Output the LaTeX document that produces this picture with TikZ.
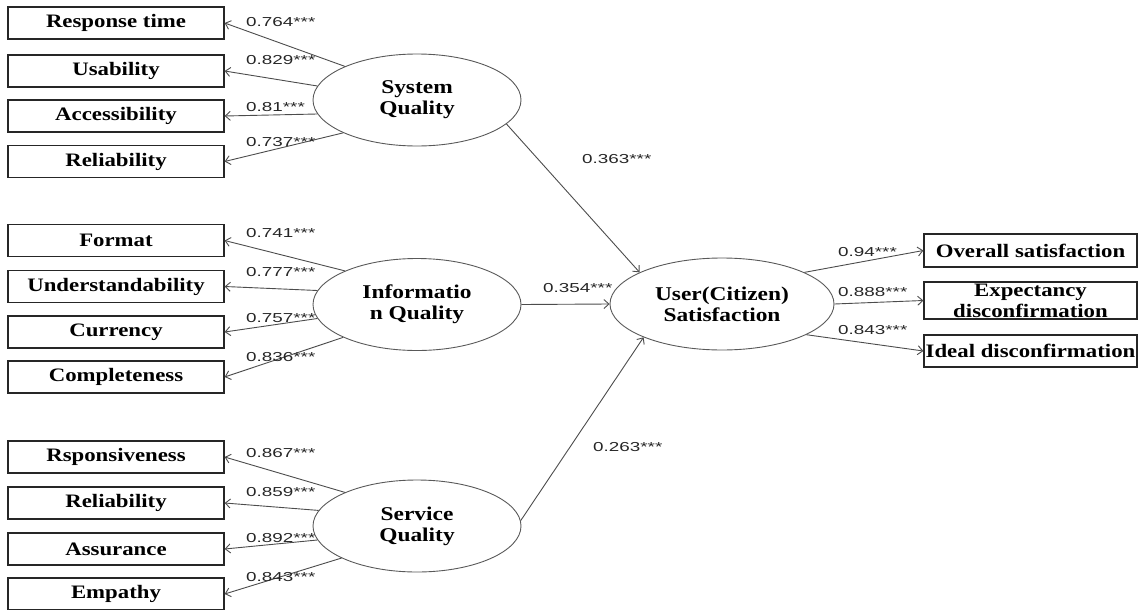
\documentclass[tikz,border=0pt]{standalone}
\usepackage{fontspec}
\setmainfont{Liberation Serif}
\newfontfamily\bxfont[FakeStretch=1.2]{Liberation Serif}
\newfontfamily\lbfont[FakeStretch=1.45]{Liberation Sans}
\usetikzlibrary{shapes.geometric,arrows.meta}
\tikzset{
 ind/.style={draw=black!85,line width=1.3pt,minimum width=216pt,minimum height=32pt,inner sep=0pt,font=\bxfont\bfseries\fontsize{19}{20}\selectfont},
 rind/.style={ind,minimum width=213pt},
 lat/.style={draw=black!65,ellipse,line width=0.9pt,minimum width=208pt,minimum height=92pt,inner sep=0pt,align=center,font=\bxfont\bfseries\fontsize{19.5}{21}\selectfont},
 con/.style={draw=black!70,line width=0.9pt,-{Straight Barb[length=5pt,width=9pt]}},
 lab/.style={anchor=west,inner sep=0pt,font=\lbfont\fontsize{13}{15}\selectfont,text=black!85},
}
\begin{document}
\begin{tikzpicture}[x=1pt,y=-1pt]
\useasboundingbox (0,0) rectangle (1140,610);
% latent variables
\node[lat] (SQ) at (417,100) {System\\Quality};
\node[lat] (IQ) at (417,304.5) {Informatio\\n Quality};
\node[lat] (SV) at (417,526) {Service\\Quality};
\node[lat,minimum width=224pt] (SAT) at (722,304) {User(Citizen)\\Satisfaction};
% indicators
\node[ind] (rt) at (116,23) {Response time};
\node[ind] (us) at (116,71) {Usability};
\node[ind] (ac) at (116,116) {Accessibility};
\node[ind] (re1) at (116,161.5) {Reliability};
\node[ind] (fo) at (116,240.5) {Format};
\node[ind] (un) at (116,286.5) {Understandability};
\node[ind] (cu) at (116,332) {Currency};
\node[ind] (co) at (116,377) {Completeness};
\node[ind] (rs) at (116,457) {Rsponsiveness};
\node[ind] (re2) at (116,503) {Reliability};
\node[ind] (as) at (116,549) {Assurance};
\node[ind] (em) at (116,594) {Empathy};
\node[rind,minimum height=33pt] (ov) at (1030.5,250.5) {Overall satisfaction};
\node[rind,minimum height=37pt,align=center,font=\bxfont\bfseries\fontsize{19}{21}\selectfont] (ex) at (1030.5,300.5) {Expectancy\\disconfirmation};
\node[rind] (id) at (1030.5,351) {Ideal disconfirmation};
% loadings
\draw[con] (SQ.155) -- (rt.east);
\draw[con] (SQ.172) -- (us.east);
\draw[con] (SQ.188) -- (ac.east);
\draw[con] (SQ.204) -- (re1.east);
\draw[con] (IQ.155) -- (fo.east);
\draw[con] (IQ.172) -- (un.east);
\draw[con] (IQ.188) -- (cu.east);
\draw[con] (IQ.204) -- (co.east);
\draw[con] (SV.155) -- (rs.east);
\draw[con] (SV.171) -- (re2.east);
\draw[con] (SV.188) -- (as.east);
\draw[con] (SV.203) -- (em.east);
% structural paths
\draw[con] (SQ.-15) -- (SAT.159);
\draw[con] (IQ.east) -- (SAT.west);
\draw[con] (SV.3) -- (SAT.203);
\draw[con] (SAT.21) -- (ov.west);
\draw[con] (SAT.east) -- (ex.west);
\draw[con] (SAT.-20) -- (id.west);
% labels
\node[lab] (l1) at (246,22) {0.764***};
\node[lab] (l2) at (246,60) {0.829***};
\node[lab] (l3) at (246,107) {0.81***};
\node[lab] (l4) at (246,142) {0.737***};
\node[lab] (l5) at (246,233) {0.741***};
\node[lab] (l6) at (246,272) {0.777***};
\node[lab] (l7) at (246,318) {0.757***};
\node[lab] (l8) at (246,357) {0.836***};
\node[lab] (l9) at (246,453) {0.867***};
\node[lab] (l10) at (246,492) {0.859***};
\node[lab] (l11) at (246,538) {0.892***};
\node[lab] (l12) at (246,577) {0.843***};
\node[lab] (p1) at (582,159) {0.363***};
\node[lab] (p2) at (543,288) {0.354***};
\node[lab] (p3) at (593,447) {0.263***};
\node[lab] (o1) at (838,252) {0.94***};
\node[lab] (o2) at (838,292) {0.888***};
\node[lab] (o3) at (838,330) {0.843***};
\end{tikzpicture}
\end{document}
